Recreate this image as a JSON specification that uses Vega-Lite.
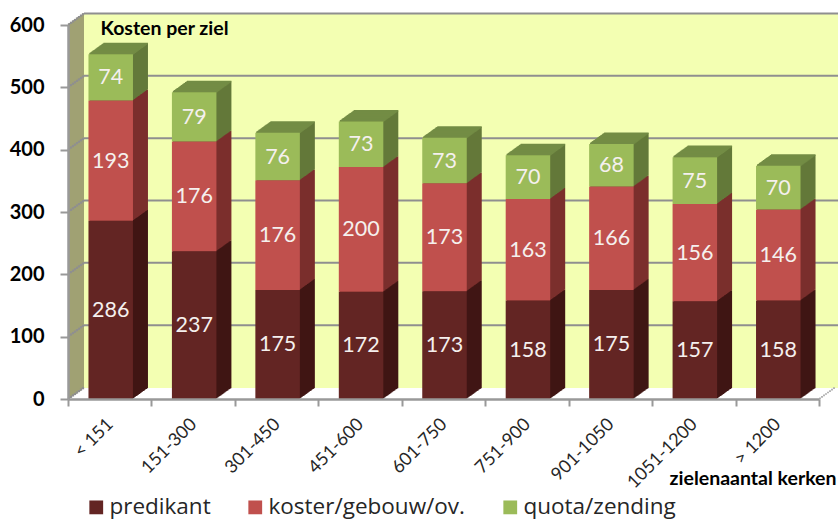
{"$schema":"https://vega.github.io/schema/vega-lite/v6.json","width":751,"height":374,"autosize":"none","padding":{"left":68,"top":25,"right":19,"bottom":122},"background":"white","view":{"stroke":null},
"config":{"bar":{"width":44.5}},
"datasets":{"grid":[{"v":0},{"v":100},{"v":200},{"v":300},{"v":400},{"v":500},{"v":600}],
"costs":[
{"cat":"< 151","serie":"predikant","rank":1,"v":286},{"cat":"< 151","serie":"koster/gebouw/ov.","rank":2,"v":193},{"cat":"< 151","serie":"quota/zending","rank":3,"v":74},
{"cat":"151-300","serie":"predikant","rank":1,"v":237},{"cat":"151-300","serie":"koster/gebouw/ov.","rank":2,"v":176},{"cat":"151-300","serie":"quota/zending","rank":3,"v":79},
{"cat":"301-450","serie":"predikant","rank":1,"v":175},{"cat":"301-450","serie":"koster/gebouw/ov.","rank":2,"v":176},{"cat":"301-450","serie":"quota/zending","rank":3,"v":76},
{"cat":"451-600","serie":"predikant","rank":1,"v":172},{"cat":"451-600","serie":"koster/gebouw/ov.","rank":2,"v":200},{"cat":"451-600","serie":"quota/zending","rank":3,"v":73},
{"cat":"601-750","serie":"predikant","rank":1,"v":173},{"cat":"601-750","serie":"koster/gebouw/ov.","rank":2,"v":173},{"cat":"601-750","serie":"quota/zending","rank":3,"v":73},
{"cat":"751-900","serie":"predikant","rank":1,"v":158},{"cat":"751-900","serie":"koster/gebouw/ov.","rank":2,"v":163},{"cat":"751-900","serie":"quota/zending","rank":3,"v":70},
{"cat":"901-1050","serie":"predikant","rank":1,"v":175},{"cat":"901-1050","serie":"koster/gebouw/ov.","rank":2,"v":166},{"cat":"901-1050","serie":"quota/zending","rank":3,"v":68},
{"cat":"1051-1200","serie":"predikant","rank":1,"v":157},{"cat":"1051-1200","serie":"koster/gebouw/ov.","rank":2,"v":156},{"cat":"1051-1200","serie":"quota/zending","rank":3,"v":75},
{"cat":"> 1200","serie":"predikant","rank":1,"v":158},{"cat":"> 1200","serie":"koster/gebouw/ov.","rank":2,"v":146},{"cat":"> 1200","serie":"quota/zending","rank":3,"v":70}]},
"data":{"name":"costs"},
"resolve":{"axis":{"y":"independent"},"scale":{"fill":"independent"}},
"layer":[
{"data":{"name":"grid"},"resolve":{"axis":{"y":"independent"}},"layer":[
{"transform":[{"filter":"datum.v==600"}],"mark":{"type":"rect","fill":"#f3ffb2","yOffset":-12,"y2Offset":-11},"encoding":{"x":{"value":16},"x2":{"value":771},"y":{"datum":600,"type":"quantitative","scale":{"domain":[0,600],"nice":false},"axis":null},"y2":{"datum":0}}},
{"transform":[{"filter":"datum.v>0"}],"mark":{"type":"rule","stroke":"#8f8f8f","strokeWidth":2,"yOffset":-11.5,"y2Offset":-11.5},"encoding":{"x":{"value":16},"x2":{"value":771},"y":{"field":"v","type":"quantitative","axis":null}}},
{"encoding":{"x":{"value":0},"y":{"datum":600,"type":"quantitative","axis":null},"y2":{"datum":0}},"layer":[
{"mark":{"type":"rule","stroke":"#a0a273","strokeWidth":1.6,"xOffset":1,"yOffset":-0.7,"y2Offset":-0.7}},
{"mark":{"type":"rule","stroke":"#a0a273","strokeWidth":1.6,"xOffset":2,"yOffset":-1.4,"y2Offset":-1.4}},
{"mark":{"type":"rule","stroke":"#a0a273","strokeWidth":1.6,"xOffset":3,"yOffset":-2.2,"y2Offset":-2.2}},
{"mark":{"type":"rule","stroke":"#a0a273","strokeWidth":1.6,"xOffset":4,"yOffset":-2.9,"y2Offset":-2.9}},
{"mark":{"type":"rule","stroke":"#a0a273","strokeWidth":1.6,"xOffset":5,"yOffset":-3.6,"y2Offset":-3.6}},
{"mark":{"type":"rule","stroke":"#a0a273","strokeWidth":1.6,"xOffset":6,"yOffset":-4.3,"y2Offset":-4.3}},
{"mark":{"type":"rule","stroke":"#a0a273","strokeWidth":1.6,"xOffset":7,"yOffset":-5,"y2Offset":-5}},
{"mark":{"type":"rule","stroke":"#a0a273","strokeWidth":1.6,"xOffset":8,"yOffset":-5.8,"y2Offset":-5.8}},
{"mark":{"type":"rule","stroke":"#a0a273","strokeWidth":1.6,"xOffset":9,"yOffset":-6.5,"y2Offset":-6.5}},
{"mark":{"type":"rule","stroke":"#a0a273","strokeWidth":1.6,"xOffset":10,"yOffset":-7.2,"y2Offset":-7.2}},
{"mark":{"type":"rule","stroke":"#a0a273","strokeWidth":1.6,"xOffset":11,"yOffset":-7.9,"y2Offset":-7.9}},
{"mark":{"type":"rule","stroke":"#a0a273","strokeWidth":1.6,"xOffset":12,"yOffset":-8.6,"y2Offset":-8.6}},
{"mark":{"type":"rule","stroke":"#a0a273","strokeWidth":1.6,"xOffset":13,"yOffset":-9.4,"y2Offset":-9.4}},
{"mark":{"type":"rule","stroke":"#a0a273","strokeWidth":1.6,"xOffset":14,"yOffset":-10.1,"y2Offset":-10.1}},
{"mark":{"type":"rule","stroke":"#a0a273","strokeWidth":1.6,"xOffset":15,"yOffset":-10.8,"y2Offset":-10.8}}]},
{"encoding":{"x":{"value":0},"y":{"field":"v","type":"quantitative","axis":null}},"layer":[
{"mark":{"type":"square","size":5,"opacity":1,"color":"#8f8f8f","xOffset":1,"yOffset":-0.7}},
{"mark":{"type":"square","size":5,"opacity":1,"color":"#8f8f8f","xOffset":3,"yOffset":-2.2}},
{"mark":{"type":"square","size":5,"opacity":1,"color":"#8f8f8f","xOffset":5,"yOffset":-3.6}},
{"mark":{"type":"square","size":5,"opacity":1,"color":"#8f8f8f","xOffset":7,"yOffset":-5}},
{"mark":{"type":"square","size":5,"opacity":1,"color":"#8f8f8f","xOffset":9,"yOffset":-6.5}},
{"mark":{"type":"square","size":5,"opacity":1,"color":"#8f8f8f","xOffset":11,"yOffset":-7.9}},
{"mark":{"type":"square","size":5,"opacity":1,"color":"#8f8f8f","xOffset":13,"yOffset":-9.4}},
{"mark":{"type":"square","size":5,"opacity":1,"color":"#8f8f8f","xOffset":15,"yOffset":-10.8}}]},
{"transform":[{"filter":"datum.v==0"}],"encoding":{"x":{"value":751},"y":{"field":"v","type":"quantitative","axis":null}},"layer":[
{"mark":{"type":"square","size":3,"opacity":1,"color":"#a8a8a8","xOffset":1,"yOffset":-0.7}},
{"mark":{"type":"square","size":3,"opacity":1,"color":"#a8a8a8","xOffset":3,"yOffset":-2.2}},
{"mark":{"type":"square","size":3,"opacity":1,"color":"#a8a8a8","xOffset":5,"yOffset":-3.6}},
{"mark":{"type":"square","size":3,"opacity":1,"color":"#a8a8a8","xOffset":7,"yOffset":-5}},
{"mark":{"type":"square","size":3,"opacity":1,"color":"#a8a8a8","xOffset":9,"yOffset":-6.5}},
{"mark":{"type":"square","size":3,"opacity":1,"color":"#a8a8a8","xOffset":11,"yOffset":-7.9}},
{"mark":{"type":"square","size":3,"opacity":1,"color":"#a8a8a8","xOffset":13,"yOffset":-9.4}},
{"mark":{"type":"square","size":3,"opacity":1,"color":"#a8a8a8","xOffset":15,"yOffset":-10.8}}]}
]},
{"transform":[{"stack":"v","groupby":["cat"],"sort":[{"field":"rank","order":"ascending"}],"as":["y0","y1"]},{"calculate":"(datum.y0+datum.y1)/2","as":"mid"}],
"resolve":{"axis":{"y":"independent"}},
"encoding":{"x":{"field":"cat","type":"nominal","sort":null,"scale":{"domain":["< 151","151-300","301-450","451-600","601-750","751-900","901-1050","1051-1200","> 1200"],"padding":0},"axis":{"title":"zielenaantal kerken","titleFont":"Lato","titleFontSize":19.5,"titleFontWeight":"bold","titleColor":"#000000","titleX":768,"titleY":79,"titleAlign":"right","titleBaseline":"middle","labelFont":"Lato","labelFontSize":18,"labelColor":"#262626","labelAngle":-45,"labelAlign":"right","labelBaseline":"top","labelPadding":9,"labelOffset":-6,"tickBand":"extent","tickColor":"#999999","tickSize":7,"tickWidth":2,"domainColor":"#999999","domainWidth":2.5,"zindex":1}}},
"layer":[
{"encoding":{"y":{"field":"y1","type":"quantitative","axis":null},"y2":{"field":"y0"},"fill":{"field":"serie","type":"nominal","legend":null,"scale":{"domain":["predikant","koster/gebouw/ov.","quota/zending"],"range":["#401614","#7b2f2d","#64793a"]}}},"layer":[
{"mark":{"type":"bar","xOffset":16,"yOffset":-10.8,"y2Offset":-10.8}},
{"mark":{"type":"bar","xOffset":15,"yOffset":-10.1,"y2Offset":-10.1}},
{"mark":{"type":"bar","xOffset":14,"yOffset":-9.4,"y2Offset":-9.4}},
{"mark":{"type":"bar","xOffset":13,"yOffset":-8.6,"y2Offset":-8.6}},
{"mark":{"type":"bar","xOffset":12,"yOffset":-7.9,"y2Offset":-7.9}},
{"mark":{"type":"bar","xOffset":11,"yOffset":-7.2,"y2Offset":-7.2}},
{"mark":{"type":"bar","xOffset":10,"yOffset":-6.5,"y2Offset":-6.5}},
{"mark":{"type":"bar","xOffset":9,"yOffset":-5.8,"y2Offset":-5.8}},
{"mark":{"type":"bar","xOffset":8,"yOffset":-5,"y2Offset":-5}},
{"mark":{"type":"bar","xOffset":7,"yOffset":-4.3,"y2Offset":-4.3}},
{"mark":{"type":"bar","xOffset":6,"yOffset":-3.6,"y2Offset":-3.6}},
{"mark":{"type":"bar","xOffset":5,"yOffset":-2.9,"y2Offset":-2.9}},
{"mark":{"type":"bar","xOffset":4,"yOffset":-2.2,"y2Offset":-2.2}},
{"mark":{"type":"bar","xOffset":3,"yOffset":-1.4,"y2Offset":-1.4}},
{"mark":{"type":"bar","xOffset":2,"yOffset":-0.7,"y2Offset":-0.7}}]},
{"transform":[{"filter":"datum.rank==3"}],"encoding":{"y":{"field":"y1","type":"quantitative","axis":null}},"layer":[
{"mark":{"type":"tick","color":"#738c45","opacity":1,"size":44.5,"thickness":1.6,"xOffset":16,"yOffset":-10.8}},
{"mark":{"type":"tick","color":"#738c45","opacity":1,"size":44.5,"thickness":1.6,"xOffset":15,"yOffset":-10.1}},
{"mark":{"type":"tick","color":"#738c45","opacity":1,"size":44.5,"thickness":1.6,"xOffset":14,"yOffset":-9.4}},
{"mark":{"type":"tick","color":"#738c45","opacity":1,"size":44.5,"thickness":1.6,"xOffset":13,"yOffset":-8.6}},
{"mark":{"type":"tick","color":"#738c45","opacity":1,"size":44.5,"thickness":1.6,"xOffset":12,"yOffset":-7.9}},
{"mark":{"type":"tick","color":"#738c45","opacity":1,"size":44.5,"thickness":1.6,"xOffset":11,"yOffset":-7.2}},
{"mark":{"type":"tick","color":"#738c45","opacity":1,"size":44.5,"thickness":1.6,"xOffset":10,"yOffset":-6.5}},
{"mark":{"type":"tick","color":"#738c45","opacity":1,"size":44.5,"thickness":1.6,"xOffset":9,"yOffset":-5.8}},
{"mark":{"type":"tick","color":"#738c45","opacity":1,"size":44.5,"thickness":1.6,"xOffset":8,"yOffset":-5}},
{"mark":{"type":"tick","color":"#738c45","opacity":1,"size":44.5,"thickness":1.6,"xOffset":7,"yOffset":-4.3}},
{"mark":{"type":"tick","color":"#738c45","opacity":1,"size":44.5,"thickness":1.6,"xOffset":6,"yOffset":-3.6}},
{"mark":{"type":"tick","color":"#738c45","opacity":1,"size":44.5,"thickness":1.6,"xOffset":5,"yOffset":-2.9}},
{"mark":{"type":"tick","color":"#738c45","opacity":1,"size":44.5,"thickness":1.6,"xOffset":4,"yOffset":-2.2}},
{"mark":{"type":"tick","color":"#738c45","opacity":1,"size":44.5,"thickness":1.6,"xOffset":3,"yOffset":-1.4}},
{"mark":{"type":"tick","color":"#738c45","opacity":1,"size":44.5,"thickness":1.6,"xOffset":2,"yOffset":-0.7}}]},
{"mark":{"type":"bar","xOffset":1},"encoding":{"y":{"field":"y1","type":"quantitative","scale":{"domain":[0,600],"nice":false},"axis":{"values":[0,100,200,300,400,500,600],"grid":false,"title":"Kosten per ziel","titleFont":"Lato","titleFontSize":19.5,"titleFontWeight":"bold","titleColor":"#000000","titleAngle":0,"titleX":32,"titleY":3,"titleAlign":"left","titleBaseline":"middle","labelFont":"Lato","labelFontSize":20,"labelFontWeight":"bold","labelColor":"#000000","labelPadding":16,"tickColor":"#999999","tickSize":8,"tickWidth":2,"domainColor":"#999999","domainWidth":2.5,"zindex":1}},"y2":{"field":"y0"},"color":{"field":"serie","type":"nominal","scale":{"domain":["predikant","koster/gebouw/ov.","quota/zending"],"range":["#632523","#c0504d","#9bbb59"]},"legend":{"title":null,"orient":"none","legendX":17,"legendY":471,"direction":"horizontal","columns":3,"gridAlign":"each","symbolType":"square","symbolSize":190,"symbolStrokeWidth":0,"labelFont":"Open Sans","labelFontSize":22.5,"labelLimit":400,"labelColor":"#262626","labelOffset":2,"columnPadding":33,"zindex":1}}}},
{"mark":{"type":"text","font":"Lato","fontSize":21.5,"color":"#f5f0ee","xOffset":1,"dy":1},"encoding":{"y":{"field":"mid","type":"quantitative","axis":null},"text":{"field":"v","type":"nominal"}}}
]}
]}
